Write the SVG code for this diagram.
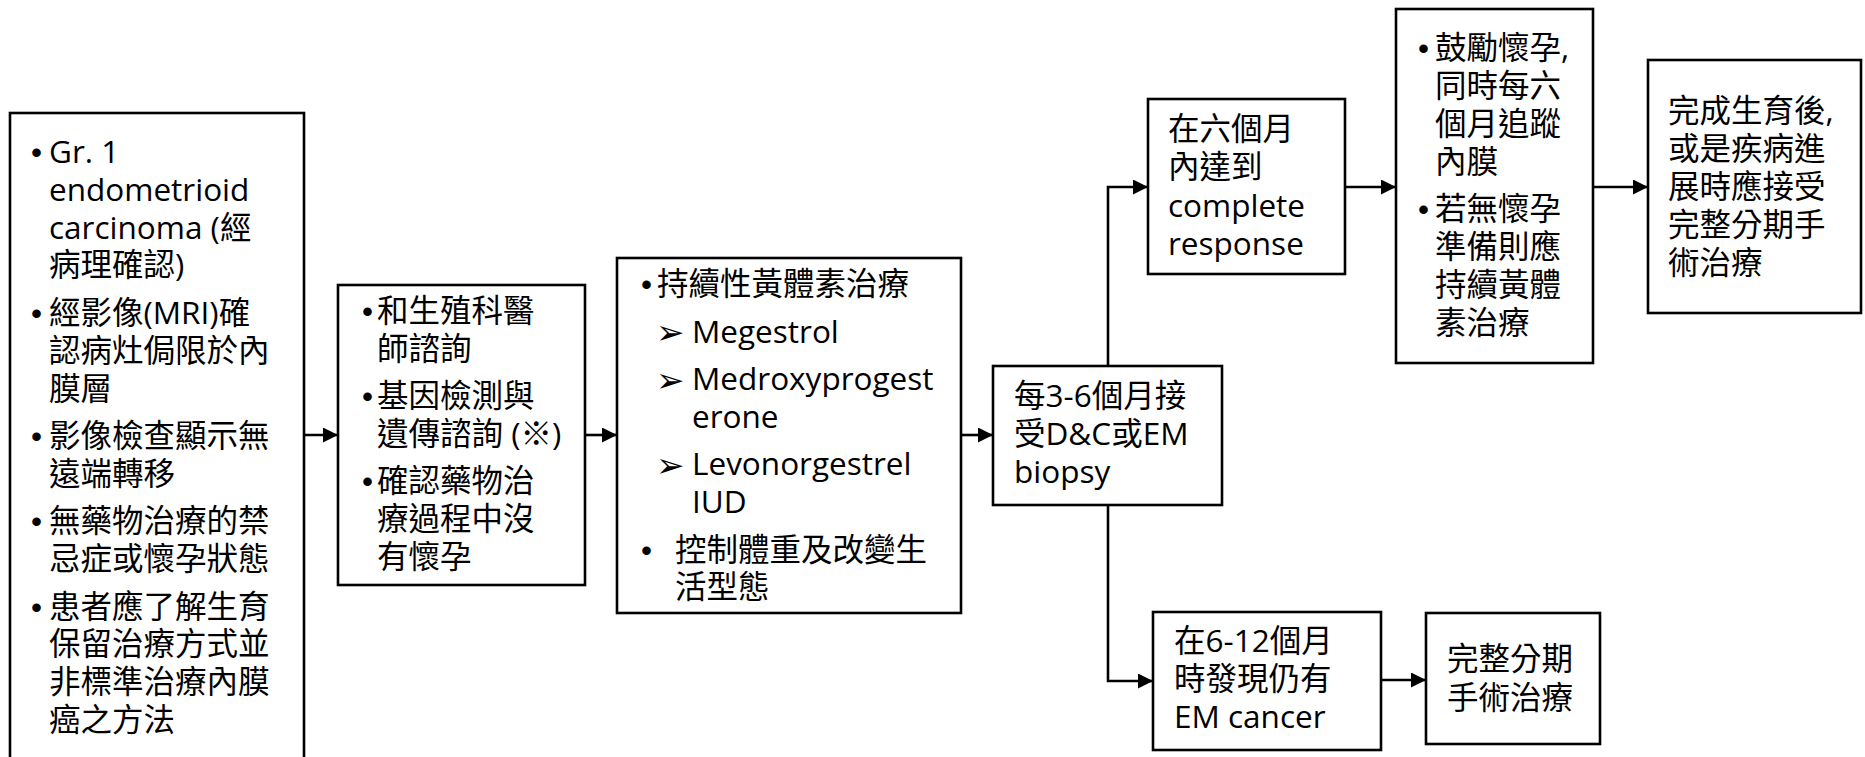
<svg xmlns="http://www.w3.org/2000/svg" width="1865" height="757" viewBox="0 0 1865 757">
  <style>
    .box { fill: #ffffff; stroke: #000000; stroke-width: 2.6; }
    .t { font-family: "Open Sans", "Noto Sans CJK TC", sans-serif; font-size: 31.5px; fill: #000000; }
    .b { font-family: "Liberation Sans", Arial, sans-serif; font-size: 31.5px; fill: #000000; }
    .arr { font-family: "DejaVu Sans", sans-serif; font-size: 34px; fill: #000000; }
    .edge { fill: none; stroke: #000000; stroke-width: 2.6; marker-end: url(#head); }
  </style>
  <defs>
    <marker id="head" markerUnits="userSpaceOnUse" markerWidth="16" markerHeight="16" refX="15" refY="7.5" orient="auto">
      <path d="M0,0 L15,7.5 L0,15 Z" fill="#000000"/>
    </marker>
  </defs>
  <rect width="1865" height="757" fill="#ffffff"/>

  <!-- connectors -->
  <g id="connectors">
    <path class="edge" d="M304,435 H338"/>
    <path class="edge" d="M585,435 H617"/>
    <path class="edge" d="M961,435 H993"/>
    <path class="edge" d="M1108,366 V187 H1148"/>
    <path class="edge" d="M1108,505 V681 H1153"/>
    <path class="edge" d="M1345,187 H1396"/>
    <path class="edge" d="M1593,187 H1648"/>
    <path class="edge" d="M1381,680 H1426"/>
  </g>

  <!-- eligibility criteria -->
  <g id="criteria">
    <rect class="box" x="10" y="113" width="294" height="670"/>
    <text class="b" x="31" y="163">•</text>
    <text class="b" x="31" y="324">•</text>
    <text class="b" x="31" y="447">•</text>
    <text class="b" x="31" y="532">•</text>
    <text class="b" x="31" y="618">•</text>
    <text class="t">
      <tspan x="49" y="163">Gr. 1</tspan>
      <tspan x="49" y="200.8">endometrioid</tspan>
      <tspan x="49" y="238.6">carcinoma (經</tspan>
      <tspan x="49" y="276.4">病理確認)</tspan>
      <tspan x="49" y="324">經影像(MRI)確</tspan>
      <tspan x="49" y="361.7">認病灶侷限於內</tspan>
      <tspan x="49" y="399.5">膜層</tspan>
      <tspan x="49" y="447">影像檢查顯示無</tspan>
      <tspan x="49" y="484.8">遠端轉移</tspan>
      <tspan x="49" y="532.3">無藥物治療的禁</tspan>
      <tspan x="49" y="570.1">忌症或懷孕狀態</tspan>
      <tspan x="49" y="617.6">患者應了解生育</tspan>
      <tspan x="49" y="655.4">保留治療方式並</tspan>
      <tspan x="49" y="693.2">非標準治療內膜</tspan>
      <tspan x="49" y="731">癌之方法</tspan>
    </text>
  </g>

  <!-- counselling -->
  <g id="counselling">
    <rect class="box" x="338" y="285" width="247" height="300"/>
    <text class="b" x="362" y="322">•</text>
    <text class="b" x="362" y="407">•</text>
    <text class="b" x="362" y="492">•</text>
    <text class="t">
      <tspan x="377" y="322">和生殖科醫</tspan>
      <tspan x="377" y="360">師諮詢</tspan>
      <tspan x="377" y="407">基因檢測與</tspan>
      <tspan x="377" y="445">遺傳諮詢 (※)</tspan>
      <tspan x="377" y="492">確認藥物治</tspan>
      <tspan x="377" y="530">療過程中沒</tspan>
      <tspan x="377" y="568">有懷孕</tspan>
    </text>
  </g>

  <!-- progestin therapy -->
  <g id="therapy">
    <rect class="box" x="617" y="258" width="344" height="355"/>
    <text class="b" x="641" y="295">•</text>
    <text class="b" x="641" y="560.6">•</text>
    <text class="arr" x="656" y="344">➢</text>
    <text class="arr" x="656" y="391.5">➢</text>
    <text class="arr" x="656" y="476.8">➢</text>
    <text class="t">
      <tspan x="657" y="295">持續性黃體素治療</tspan>
      <tspan x="692" y="342.5">Megestrol</tspan>
      <tspan x="692" y="390">Medroxyprogest</tspan>
      <tspan x="692" y="427.8">erone</tspan>
      <tspan x="692" y="475.3">Levonorgestrel</tspan>
      <tspan x="692" y="513.1">IUD</tspan>
      <tspan x="675" y="560.6">控制體重及改變生</tspan>
      <tspan x="675" y="598.4">活型態</tspan>
    </text>
  </g>

  <!-- follow-up sampling -->
  <g id="biopsy">
    <rect class="box" x="993" y="366" width="229" height="139"/>
    <text class="t">
      <tspan x="1014" y="407">每3-6個月接</tspan>
      <tspan x="1014" y="445">受D&amp;C或EM</tspan>
      <tspan x="1014" y="483">biopsy</tspan>
    </text>
  </g>

  <!-- complete response -->
  <g id="response">
    <rect class="box" x="1148" y="99" width="197" height="175"/>
    <text class="t">
      <tspan x="1168" y="140">在六個月</tspan>
      <tspan x="1168" y="178">內達到</tspan>
      <tspan x="1168" y="217">complete</tspan>
      <tspan x="1168" y="255">response</tspan>
    </text>
  </g>

  <!-- persistent disease -->
  <g id="persistent">
    <rect class="box" x="1153" y="612" width="228" height="138"/>
    <text class="t">
      <tspan x="1174" y="652">在6-12個月</tspan>
      <tspan x="1174" y="690">時發現仍有</tspan>
      <tspan x="1174" y="728">EM cancer</tspan>
    </text>
  </g>

  <!-- staging surgery -->
  <g id="surgery">
    <rect class="box" x="1426" y="613" width="174" height="131"/>
    <text class="t">
      <tspan x="1447" y="670">完整分期</tspan>
      <tspan x="1447" y="709">手術治療</tspan>
    </text>
  </g>

  <!-- pregnancy and maintenance -->
  <g id="maintenance">
    <rect class="box" x="1396" y="9" width="197" height="354"/>
    <text class="b" x="1418" y="59">•</text>
    <text class="b" x="1418" y="220">•</text>
    <text class="t">
      <tspan x="1435" y="59">鼓勵懷孕,</tspan>
      <tspan x="1435" y="97">同時每六</tspan>
      <tspan x="1435" y="135">個月追蹤</tspan>
      <tspan x="1435" y="173">內膜</tspan>
      <tspan x="1435" y="220">若無懷孕</tspan>
      <tspan x="1435" y="258">準備則應</tspan>
      <tspan x="1435" y="296">持續黃體</tspan>
      <tspan x="1435" y="334">素治療</tspan>
    </text>
  </g>

  <!-- definitive surgery -->
  <g id="definitive">
    <rect class="box" x="1648" y="60" width="213" height="253"/>
    <text class="t">
      <tspan x="1668" y="122">完成生育後,</tspan>
      <tspan x="1668" y="160">或是疾病進</tspan>
      <tspan x="1668" y="198">展時應接受</tspan>
      <tspan x="1668" y="236">完整分期手</tspan>
      <tspan x="1668" y="274">術治療</tspan>
    </text>
  </g>
</svg>
